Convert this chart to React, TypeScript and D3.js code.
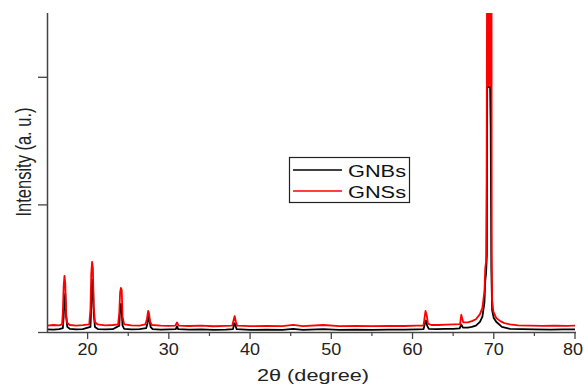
import React, { useEffect, useRef } from "react";
import * as d3 from "d3";

// 2θ (degree), intensity (a. u.)
const gnbsPoints: [number, number][] = [
  [15, 0.02], [15.8, 0.018], [16.5, 0.022], [16.95, 0.03], [17.05, 0.12], [17.15, 0.25],
  [17.25, 0.3], [17.35, 0.12], [17.5, 0.04], [17.8, 0.025], [18.6, 0.02], [19.4, 0.022],
  [20.35, 0.04], [20.45, 0.2], [20.55, 0.38], [20.65, 0.41], [20.75, 0.15], [20.9, 0.04],
  [21.3, 0.022], [22.2, 0.02], [23.1, 0.022], [23.9, 0.05], [24.0, 0.19], [24.1, 0.22],
  [24.2, 0.16], [24.3, 0.05], [24.5, 0.025], [25.4, 0.02], [26.4, 0.022], [27.2, 0.03],
  [27.35, 0.06], [27.5, 0.125], [27.6, 0.1], [27.75, 0.04], [28.0, 0.022], [29.0, 0.018],
  [30.0, 0.02], [30.85, 0.022], [31.0, 0.045], [31.15, 0.022], [32.5, 0.018], [34.0, 0.02],
  [35.5, 0.016], [37.0, 0.018], [37.9, 0.022], [38.05, 0.07], [38.15, 0.06], [38.35, 0.022],
  [40.0, 0.016], [42.0, 0.018], [44.0, 0.016], [45.3, 0.024], [46.5, 0.016], [49.0, 0.022],
  [51.0, 0.016], [53.0, 0.018], [55.0, 0.016], [57.0, 0.018], [59.0, 0.018], [60.5, 0.02],
  [61.35, 0.022], [61.5, 0.06], [61.65, 0.09], [61.8, 0.05], [62.0, 0.025], [63.0, 0.022],
  [64.0, 0.024], [65.0, 0.025], [65.8, 0.028], [66.0, 0.06], [66.2, 0.035], [66.8, 0.035],
  [67.3, 0.04], [67.8, 0.05], [68.3, 0.08], [68.6, 0.12], [68.85, 0.23], [68.95, 0.4],
  [69.05, 0.46], [69.15, 0.6], [69.19, 1.92], [69.55, 1.92], [69.62, 1.6], [69.7, 0.5],
  [69.8, 0.17], [70.0, 0.11], [70.3, 0.08], [71.0, 0.04], [72.0, 0.025],
  [73.5, 0.022], [75.0, 0.02], [77.0, 0.018], [78.5, 0.02], [80, 0.02],
];

const gnssPoints: [number, number][] = [
  [15, 0.05], [15.8, 0.055], [16.5, 0.052], [16.85, 0.06], [16.95, 0.15], [17.05, 0.36],
  [17.15, 0.44], [17.25, 0.38], [17.35, 0.14], [17.5, 0.07], [17.8, 0.055], [18.6, 0.05],
  [19.4, 0.054], [20.2, 0.06], [20.35, 0.18], [20.45, 0.46], [20.55, 0.55], [20.65, 0.5],
  [20.75, 0.2], [20.9, 0.08], [21.2, 0.06], [22.2, 0.052], [23.1, 0.055], [23.75, 0.06],
  [23.9, 0.15], [24.0, 0.31], [24.1, 0.345], [24.2, 0.33], [24.3, 0.12], [24.5, 0.06],
  [25.4, 0.052], [26.4, 0.05], [27.1, 0.06], [27.3, 0.1], [27.45, 0.165], [27.55, 0.15],
  [27.7, 0.08], [27.9, 0.055], [29.0, 0.05], [30.0, 0.048], [30.8, 0.05], [31.0, 0.075],
  [31.2, 0.05], [32.5, 0.047], [34.0, 0.05], [35.5, 0.045], [37.0, 0.048], [37.8, 0.05],
  [38.0, 0.1], [38.1, 0.125], [38.25, 0.08], [38.4, 0.05], [40.0, 0.046], [42.0, 0.048],
  [44.0, 0.046], [45.3, 0.056], [46.5, 0.046], [49.0, 0.055], [51.0, 0.046], [53.0, 0.048],
  [55.0, 0.046], [57.0, 0.048], [59.0, 0.047], [60.5, 0.05], [61.35, 0.05], [61.5, 0.12],
  [61.6, 0.165], [61.75, 0.13], [61.9, 0.065], [62.3, 0.055], [63.2, 0.055], [64.2, 0.058],
  [65.2, 0.06], [65.85, 0.062], [66.0, 0.135], [66.1, 0.11], [66.25, 0.075], [66.8, 0.075],
  [67.3, 0.085], [67.8, 0.1], [68.3, 0.14], [68.6, 0.19], [68.85, 0.32], [68.95, 0.5],
  [69.05, 0.55], [69.12, 1.2], [69.18, 3.0], [69.25, 1.95], [69.3, 3.0], [69.36, 1.93],
  [69.42, 3.0], [69.48, 1.95], [69.54, 3.0], [69.6, 1.93], [69.66, 3.0], [69.72, 3.0],
  [69.75, 0.6], [69.8, 0.25], [69.95, 0.16], [70.3, 0.11], [70.8, 0.085], [71.3, 0.07],
  [72.0, 0.06], [73.0, 0.052], [74.5, 0.05], [76.0, 0.048], [77.5, 0.05], [79.0, 0.048],
  [80, 0.05],
];

const xMajorTicks = [20, 30, 40, 50, 60, 70, 80];
const xMinorTicks = [25, 35, 45, 55, 65, 75];
const yTicks = [0, 1, 2];
const seriesNames = ["GNBs", "GNSs"];
const seriesColors = ["#000000", "#ff0000"];

export default function App() {
  const ref = useRef<SVGSVGElement>(null);

  useEffect(() => {
    const width = 584;
    const height = 386;
    const left = 47;
    const right = 575;
    const top = 13;
    const bottom = 332;
    const font = "'Liberation Sans', Arial, sans-serif";

    const svg = d3.select(ref.current);
    svg.selectAll("*").remove();
    svg.attr("width", width).attr("height", height);

    const x = d3.scaleLinear().domain([15, 80]).range([left, right]);
    const y = d3.scaleLinear().domain([0, 2.5]).range([bottom, top]);

    svg
      .append("defs")
      .append("clipPath")
      .attr("id", "plot-clip")
      .append("rect")
      .attr("x", left)
      .attr("y", top)
      .attr("width", right - left)
      .attr("height", bottom - top);

    const line = d3
      .line<[number, number]>()
      .x((d) => x(d[0]))
      .y((d) => y(d[1]));

    const plot = svg.append("g").attr("clip-path", "url(#plot-clip)");
    [gnbsPoints, gnssPoints].forEach((pts, i) => {
      plot
        .append("path")
        .attr("d", line(pts))
        .attr("fill", "none")
        .attr("stroke", seriesColors[i])
        .attr("stroke-width", 1.8)
        .attr("stroke-linejoin", "round");
    });

    const axisColor = "#444";

    // x axis
    const xAxis = svg.append("g");
    xAxis
      .append("line")
      .attr("x1", left)
      .attr("x2", right + 1)
      .attr("y1", bottom + 0.5)
      .attr("y2", bottom + 0.5)
      .attr("stroke", axisColor)
      .attr("stroke-width", 1.5);
    xMajorTicks.forEach((t) => {
      xAxis
        .append("line")
        .attr("x1", x(t))
        .attr("x2", x(t))
        .attr("y1", bottom)
        .attr("y2", bottom + 7)
        .attr("stroke", axisColor)
        .attr("stroke-width", 1.3);
      xAxis
        .append("text")
        .attr("x", Math.min(x(t), 573))
        .attr("y", 355)
        .attr("text-anchor", "middle")
        .attr("font-family", font)
        .attr("font-size", 16)
        .attr("fill", "#222")
        .attr("textLength", 20)
        .attr("lengthAdjust", "spacingAndGlyphs")
        .text(t);
    });
    xMinorTicks.forEach((t) => {
      xAxis
        .append("line")
        .attr("x1", x(t))
        .attr("x2", x(t))
        .attr("y1", bottom)
        .attr("y2", bottom + 4)
        .attr("stroke", axisColor)
        .attr("stroke-width", 1.2);
    });

    // y axis
    const yAxis = svg.append("g");
    yAxis
      .append("line")
      .attr("x1", left + 0.5)
      .attr("x2", left + 0.5)
      .attr("y1", top)
      .attr("y2", bottom + 1)
      .attr("stroke", axisColor)
      .attr("stroke-width", 1.5);
    yTicks.forEach((t) => {
      yAxis
        .append("line")
        .attr("x1", left - 9)
        .attr("x2", left)
        .attr("y1", y(t) + 0.5)
        .attr("y2", y(t) + 0.5)
        .attr("stroke", axisColor)
        .attr("stroke-width", 1.3);
    });

    // axis titles
    svg
      .append("text")
      .attr("transform", `translate(31,162) scale(1.3,1) rotate(-90)`)
      .attr("text-anchor", "middle")
      .attr("font-family", font)
      .attr("font-size", 16.5)
      .attr("fill", "#222")
      .text("Intensity (a. u.)");

    svg
      .append("text")
      .attr("x", 313)
      .attr("y", 381)
      .attr("text-anchor", "middle")
      .attr("font-family", font)
      .attr("font-size", 16)
      .attr("fill", "#222")
      .attr("textLength", 112)
      .attr("lengthAdjust", "spacingAndGlyphs")
      .text("2θ (degree)");

    // legend
    const legend = svg.append("g");
    legend
      .append("rect")
      .attr("x", 289.5)
      .attr("y", 157.5)
      .attr("width", 120)
      .attr("height", 45)
      .attr("fill", "white")
      .attr("stroke", "#222")
      .attr("stroke-width", 1.2);
    seriesNames.forEach((name, i) => {
      const ly = 170 + i * 21;
      legend
        .append("line")
        .attr("x1", 293)
        .attr("x2", 342)
        .attr("y1", ly)
        .attr("y2", ly)
        .attr("stroke", seriesColors[i])
        .attr("stroke-width", 1.3);
      legend
        .append("text")
        .attr("x", 348)
        .attr("y", ly + 6.5)
        .attr("font-family", font)
        .attr("font-size", 16)
        .attr("fill", "#111")
        .attr("textLength", 58)
        .attr("lengthAdjust", "spacingAndGlyphs")
        .text(name);
    });
  }, []);

  return (
    <div style={{ position: "absolute", left: 0, top: 0 }}>
      <svg ref={ref} style={{ display: "block" }} />
    </div>
  );
}
